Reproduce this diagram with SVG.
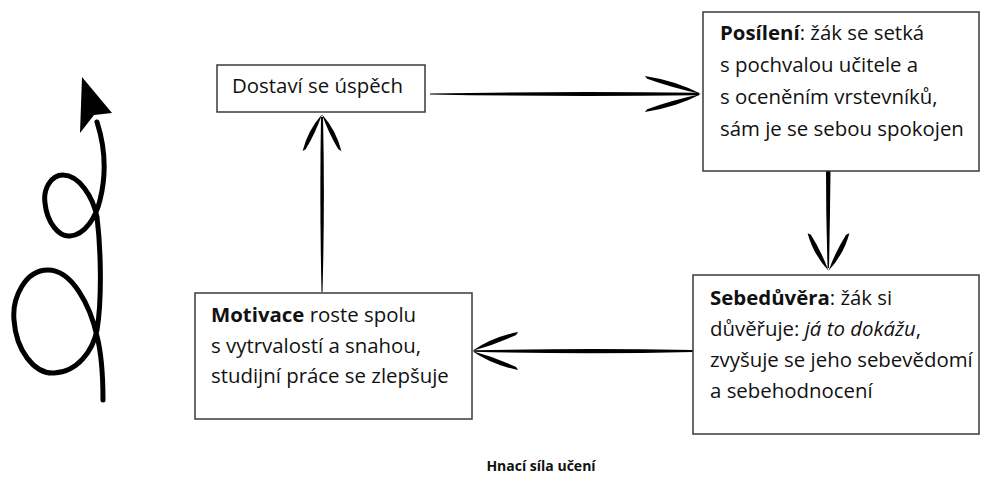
<svg xmlns="http://www.w3.org/2000/svg" width="981" height="477" viewBox="0 0 981 477">
<style>
.box{fill:#fff;stroke:#3a3a3a;stroke-width:1.5}
.t{font-family:"Open Sans","Liberation Sans",sans-serif;font-size:20.4px;fill:#111}
.b{font-weight:bold}
.ink{fill:#000}
.title{font-family:"Open Sans","Liberation Sans",sans-serif;font-size:14px;font-weight:bold;fill:#111}
</style>
<defs>
<g id="head">
<path class="ink" d="M-46,-19 Q-20,-14 1,0 Q-22,-6 -44,-16 Z"/>
<path class="ink" d="M-46,19 Q-20,14 1,0 Q-22,6 -44,16 Z"/>
</g>
</defs>
<rect width="981" height="477" fill="#fff"/>

<g id="connectors">
<path class="ink" d="M430,93.5 Q563,91 699,92.8 L699,95.2 Q563,97 430,94.5 Z"/>
<use href="#head" transform="translate(700,94) scale(1.2,0.95)"/>
<path class="ink" d="M826,171 L830.5,171 Q830,220 829,268 L827.6,268 Q826,220 826,171 Z"/>
<use href="#head" transform="translate(828.5,270) rotate(90) scale(0.8,1.1)"/>
<path class="ink" d="M693,350 Q585,348 474,350.3 L474,351.7 Q585,354.5 693,352 Z"/>
<use href="#head" transform="translate(473,351) rotate(180) scale(0.98,1)"/>
<path class="ink" d="M321.5,292 Q319.5,200 321,117 L323,117 Q325,200 322.5,292 Z"/>
<use href="#head" transform="translate(322,115) rotate(-90) scale(0.78,1.02)"/>
</g>

<g id="spiral">
<path d="M103,400 C103,372 101,352 97,336 C90,305 72,270 48,270 C25,270 12,298 14,320 C16,350 34,374 54,373 C78,372 93,350 97,330 C102,300 101,250 97,217 C93,197 79,175 63,175 C51,175 43,189 45,203 C47,223 59,237 70,236 C85,235 96,217 100,200 C106,176 106,150 97,122" fill="none" stroke="#000" stroke-width="5" stroke-linecap="round"/>
<path class="ink" d="M82,77 L112,113 L94,115 L80,133 Z"/>
</g>

<g id="n-uspech">
<rect class="box" x="217" y="65" width="208" height="47"/>
<text class="t" x="232" y="93">Dostaví se úspěch</text>
</g>

<g id="n-posileni">
<rect class="box" x="703" y="12" width="276" height="159"/>
<text class="t" x="720" y="40"><tspan class="b">Posílení</tspan>: žák se setká</text>
<text class="t" x="720" y="72">s pochvalou učitele a</text>
<text class="t" x="720" y="104">s oceněním vrstevníků,</text>
<text class="t" x="720" y="136">sám je se sebou spokojen</text>
</g>

<g id="n-sebeduvera">
<rect class="box" x="693" y="275" width="286" height="159"/>
<text class="t" x="710" y="305"><tspan class="b">Sebedůvěra</tspan>: žák si</text>
<text class="t" x="710" y="336">důvěřuje: <tspan font-style="italic">já to dokážu</tspan>,</text>
<text class="t" x="710" y="367">zvyšuje se jeho sebevědomí</text>
<text class="t" x="710" y="398">a sebehodnocení</text>
</g>

<g id="n-motivace">
<rect class="box" x="195" y="293" width="277" height="126"/>
<text class="t" x="211" y="322"><tspan class="b">Motivace</tspan> roste spolu</text>
<text class="t" x="211" y="352.5">s vytrvalostí a snahou,</text>
<text class="t" x="211" y="383">studijní práce se zlepšuje</text>
</g>

<g id="caption">
<text class="title" x="541" y="471" text-anchor="middle">Hnací síla učení</text>
</g>
</svg>
